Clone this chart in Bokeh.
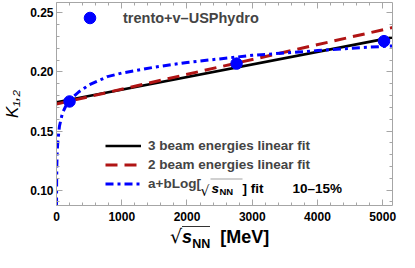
import math
from bokeh.plotting import figure
from bokeh.layouts import column
from bokeh.models import (Legend, LegendItem, Label, FixedTicker, LinearAxis,
                          NumeralTickFormatter, PolyAnnotation, Range1d,
                          CustomJSTickFormatter, Div)
from bokeh.embed import file_html
from bokeh.resources import INLINE

# ---------------- data ----------------
energies = [200, 2760, 5020]            # sqrt(s_NN)
kappa12 = [0.175, 0.207, 0.226]         # trento + v-USPhydro, 10-15%

fit3_x = [0, 5150]                      # 3 beam energies linear fit
fit3_y = [0.1744, 0.2292]
fit2_x = [0, 5150]                      # 2 beam energies linear fit
fit2_y = [0.1728, 0.2375]
logfit_x = [0.5, 1, 2, 5, 10, 20, 45, 90, 150, 200, 340, 500, 780, 1000,
            1500, 2000, 2500, 3000, 3500, 4000, 4500, 5150]
logfit_y = [0.087, 0.097, 0.107, 0.121, 0.131, 0.141, 0.154, 0.165, 0.172,
            0.176, 0.183, 0.189, 0.196, 0.199, 0.204, 0.208, 0.211, 0.214,
            0.216, 0.218, 0.220, 0.222]

x_ticks = [0, 1000, 2000, 3000, 4000, 5000]
x_minor = [v for v in range(0, 5200, 200) if v % 1000]
y_ticks = [0.10, 0.15, 0.20, 0.25]
y_minor = [round(0.09 + 0.01 * i, 2) for i in range(17)]

series_label = "trento+v\u2013USPhydro"
legend_labels = ["3 beam energies linear fit", "2 beam energies linear fit", "a+bLog["]
centrality = "10\u201315%"
y_title = "K\u2081,\u2082"

BLUE = "#0000ff"
RED = "#b01414"
GRAY = "#a6a6a6"
FONT = "Liberation Sans"

# frame placement inside the plot canvas (399 x 225), x-title div below (27 px)
PW, PH = 399, 225
FL, FR, FT, FB = 55, 392, 2, 205

p = figure(width=PW, height=PH, output_backend="svg", toolbar_location=None,
           x_range=Range1d(0, 5150), y_range=Range1d(0.087, 0.2587),
           min_border_left=FL, min_border_right=PW - FR, min_border_top=FT,
           min_border_bottom=PH - FB)
p.grid.visible = False
p.outline_line_color = None
p.background_fill_color = "white"
p.border_fill_color = "white"


def style_axis(ax, ticks, minor, labels=True):
    ax.ticker = FixedTicker(ticks=ticks, minor_ticks=minor)
    ax.axis_line_color = GRAY
    ax.major_tick_line_color = GRAY
    ax.minor_tick_line_color = GRAY
    ax.major_tick_in = 6
    ax.major_tick_out = 0
    ax.minor_tick_in = 3
    ax.minor_tick_out = 0
    ax.major_label_text_font = FONT
    ax.major_label_text_font_style = "bold"
    ax.major_label_text_color = "black"
    ax.major_label_text_font_size = "12px"
    if not labels:
        ax.formatter = CustomJSTickFormatter(code="return ''")
        ax.major_label_standoff = 0


style_axis(p.xaxis[0], x_ticks, x_minor)
p.xaxis[0].major_label_standoff = 6
style_axis(p.yaxis[0], y_ticks, y_minor)
p.yaxis[0].major_label_standoff = 3
p.yaxis[0].formatter = NumeralTickFormatter(format="0.00")
p.yaxis[0].axis_label = y_title
p.yaxis[0].axis_label_text_font = FONT
p.yaxis[0].axis_label_text_font_style = "italic"
p.yaxis[0].axis_label_text_font_size = "17px"
p.yaxis[0].axis_label_text_color = "black"
p.yaxis[0].axis_label_standoff = 5

top = LinearAxis()
style_axis(top, x_ticks, x_minor, labels=False)
p.add_layout(top, "above")
right = LinearAxis()
style_axis(right, y_ticks, y_minor, labels=False)
p.add_layout(right, "right")

r3 = p.line(fit3_x, fit3_y, line_color="black", line_width=2.6)
r2 = p.line(fit2_x, fit2_y, line_color=RED, line_width=3, line_dash="12 7")
rl = p.line(logfit_x, logfit_y, line_color=BLUE, line_width=3, line_dash="8 4 3 4")
rs = p.scatter(energies, kappa12, marker="circle", size=11.5,
               fill_color=BLUE, line_color=BLUE)

# ---------------- legends ----------------
leg = Legend(items=[LegendItem(label=legend_labels[0], renderers=[r3]),
                    LegendItem(label=legend_labels[1], renderers=[r2]),
                    LegendItem(label=legend_labels[2], renderers=[rl])],
             location=(49, 12), glyph_width=36, glyph_height=19,
             label_height=19, label_standoff=7, spacing=0, padding=0, margin=0,
             label_text_font=FONT, label_text_font_style="bold",
             label_text_font_size="13.5px", border_line_color=None,
             background_fill_alpha=0)
p.add_layout(leg, "center")

leg2 = Legend(items=[LegendItem(label=series_label, renderers=[rs])],
              location=(19, 173), glyph_width=29, glyph_height=29,
              label_height=29, label_standoff=19, spacing=0, padding=0, margin=0,
              label_text_font=FONT, label_text_font_style="bold",
              label_text_font_size="14.5px", label_text_baseline="top",
              border_line_color=None, background_fill_alpha=0)
p.add_layout(leg2, "center")


# canvas -> frame-relative screen coordinates
def sx(cx):
    return cx - FL


def sy(cy):
    return FB - cy


def lab(text, cx, cy, size, font=FONT, style="bold"):
    p.add_layout(Label(x=sx(cx), y=sy(cy), x_units="screen", y_units="screen",
                       text=text, text_font=font, text_font_size=size,
                       text_font_style=style, text_align="left",
                       text_baseline="alphabetic", text_color="black"))


def overline(cx0, cx1, cy):
    p.add_layout(PolyAnnotation(xs=[sx(cx0), sx(cx1), sx(cx1), sx(cx0)],
                                ys=[sy(cy), sy(cy), sy(cy), sy(cy)],
                                xs_units="screen", ys_units="screen",
                                line_color="#333333", line_width=1.3,
                                fill_alpha=0))


# legend third line continuation: sqrt(s_NN) ] fit
lab("\u221a", 199, 190, "14px", font="DejaVu Sans", style="normal")
overline(209, 241, 178.5)
lab("s", 210, 188, "13.5px", style="bold italic")
lab("NN", 218, 191, "9.5px")
lab("] fit", 241, 188, "13.5px")
lab(centrality, 291, 188, "13.5px")

# ---------------- x axis title (below the plot) ----------------
x_title_html = (
    '<div style="position:relative;width:399px;height:27px;color:black;'
    "font-family:'Liberation Sans';font-weight:bold;\">"
    '<span style="position:absolute;left:170px;top:-1px;font-size:18px;'
    'line-height:24px;white-space:nowrap;">'
    "<span style=\"font-family:'DejaVu Sans';font-weight:normal;font-size:19px;\">\u221a</span>"
    '<span style="border-top:1.4px solid #333;padding-top:0px;">'
    '<i>s</i><sub style="font-size:12.5px;line-height:0;">NN</sub></span>'
    '&nbsp;&nbsp;[MeV]</span></div>'
)
x_title = Div(text=x_title_html, width=PW, height=252 - PH, margin=0)

layout = column(p, x_title, spacing=0)
open("out.html", "w").write(file_html(layout, INLINE))
